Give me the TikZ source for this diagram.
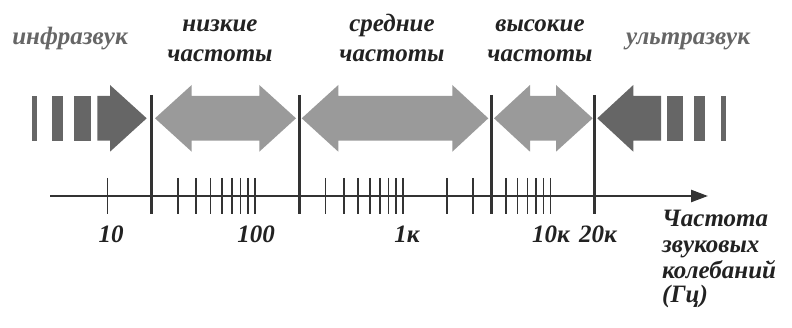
\documentclass[tikz,border=0pt]{standalone}
\usepackage{fontspec}
\setmainfont{Liberation Serif}
\usetikzlibrary{arrows.meta}
\definecolor{txt}{HTML}{222222}
\definecolor{darkg}{HTML}{666666}
\definecolor{lightg}{HTML}{9A9A9A}
\definecolor{linec}{HTML}{333333}
\newcommand\myDbl[4]{\fill[lightg] (#1,118.3) -- (#2,85) -- (#2,96) -- (#3,96) -- (#3,85) -- (#4,118.3) -- (#3,151.7) -- (#3,140.7) -- (#2,140.7) -- (#2,151.7) -- cycle;}
\begin{document}
\begin{tikzpicture}[x=1pt,y=-1pt,
  lbl/.style={font=\fontsize{25}{30}\selectfont\bfseries\itshape, text=txt, inner sep=0pt, anchor=base},
  glbl/.style={lbl, text=darkg},
  tickmark/.style={draw=linec, line width=1.6pt},
  bnd/.style={draw=linec, line width=3pt},
  axisline/.style={draw=linec, line width=2.4pt, -{Triangle[length=17pt,width=12pt]}}]
\useasboundingbox (0,0) rectangle (792,328);
% infrasound
\fill[darkg] (31.7,96) rectangle (36.7,140.7);
\fill[darkg] (52.3,96) rectangle (63.3,140.7);
\fill[darkg] (74,96) rectangle (90.7,140.7);
\fill[darkg] (97.3,96) -- (110,96) -- (110,85) -- (146.7,118.3) -- (110,151.7) -- (110,140.7) -- (97.3,140.7) -- cycle;
% ultrasound
\fill[darkg] (597.3,118.3) -- (633.3,85) -- (633.3,96) -- (661,96) -- (661,140.7) -- (633.3,140.7) -- (633.3,151.7) -- cycle;
\fill[darkg] (666.7,96) rectangle (682.7,140.7);
\fill[darkg] (694.3,96) rectangle (705,140.7);
\fill[darkg] (720.7,96) rectangle (726,140.7);
% double arrows
\myDbl{155}{191.7}{259.3}{296}
\myDbl{301.7}{338.3}{452.3}{488.3}
\myDbl{494}{530}{556}{592.7}
% axis
\coordinate (ax0) at (50,196);
\coordinate (ax1) at (708,196);
\draw[axisline] (ax0) -- (ax1);
\foreach \f in {1,3,4,5,6,7,8,9,10,30,40,50,60,70,80,90,100,200,300,500,600,700,800,900,1000}
  \draw[tickmark] ({107.3+147.7*log10(\f)},178) -- ++(0,36);
\foreach \f in {2,20,400,2000}
  \draw[bnd] ({107.3+147.7*log10(\f)},95) -- ++(0,119);
% tick labels
\node[lbl] (n10) at (111,243) {10};
\node[lbl] (n100) at (256,243) {100};
\node[lbl] (n1k) at (407,243) {1к};
\node[lbl] (n10k) at (551,243) {10к};
\node[lbl] (n20k) at (598,243) {20к};
% axis title
\node[lbl, anchor=base west] (t1) at (662,227) {Частота};
\node[lbl, anchor=base west] (t2) at (662,253) {звуковых};
\node[lbl, anchor=base west] (t3) at (662,279) {колебаний};
\node[lbl, anchor=base west] (t4) at (662,303) {(Гц)};
% top labels
\node[glbl] (infra) at (70,45) {инфразвук};
\node[lbl] (low1) at (220,32) {низкие};
\node[lbl] (low2) at (220,62) {частоты};
\node[lbl] (mid1) at (392,32) {средние};
\node[lbl] (mid2) at (392,62) {частоты};
\node[lbl] (hi1) at (540,32) {высокие};
\node[lbl] (hi2) at (540,62) {частоты};
\node[glbl] (ultra) at (688,45) {ультразвук};
\end{tikzpicture}
\end{document}
